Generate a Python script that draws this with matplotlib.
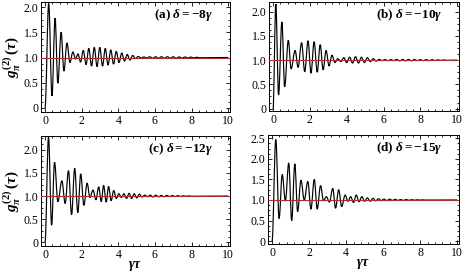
import matplotlib
matplotlib.use("Agg")
import matplotlib.pyplot as plt
from matplotlib.ticker import MultipleLocator, FuncFormatter
from matplotlib.path import Path
from matplotlib.patches import PathPatch

plt.rcParams['font.family'] = ['Liberation Serif', 'DejaVu Serif']
plt.rcParams['mathtext.fontset'] = 'custom'
plt.rcParams['mathtext.rm'] = 'Liberation Serif:bold'
plt.rcParams['mathtext.it'] = 'Liberation Serif:bold:italic'
plt.rcParams['mathtext.bf'] = 'Liberation Serif:bold'

# ---- data (turning points of g2(tau)) ----
tau_a = [0.00, 0.20, 0.38, 0.55, 0.70, 0.88, 1.03, 1.20, 1.36, 1.52,
         1.67, 1.80, 1.94, 2.09, 2.24, 2.39, 2.54, 2.69, 2.84, 2.99,
         3.14, 3.29, 3.44, 3.59, 3.74, 3.89, 4.04, 4.19, 4.34, 4.49,
         4.64, 4.79, 4.94, 5.09, 5.24, 5.40, 5.56, 5.72, 5.88, 6.04,
         6.20, 6.36, 6.52, 6.68, 6.84, 7.00, 7.16, 7.32, 7.48, 7.64,
         7.80, 7.96, 8.12, 8.28, 8.44, 10.0]
g2_a = [0.00, 2.07, 0.24, 1.78, 0.49, 1.50, 0.73, 1.29, 0.90, 1.11,
        0.97, 1.07, 0.91, 1.14, 0.86, 1.18, 0.83, 1.20, 0.82, 1.20,
        0.83, 1.18, 0.85, 1.15, 0.87, 1.12, 0.90, 1.09, 0.93, 1.06,
        0.95, 1.04, 0.98, 1.02, 0.99, 1.01, 0.99, 1.015, 0.985, 1.015,
        0.985, 1.015, 0.985, 1.015, 0.985, 1.015, 0.985, 1.012, 0.988, 1.01,
        0.99, 1.008, 0.992, 1.005, 0.995, 1.0]

tau_b = [0.00, 0.15, 0.30, 0.48, 0.63, 0.83, 0.98, 1.20, 1.36, 1.55,
         1.72, 1.90, 2.06, 2.23, 2.40, 2.56, 2.72, 2.88, 3.04, 3.20,
         3.36, 3.52, 3.68, 3.84, 4.00, 4.16, 4.32, 4.48, 4.64, 4.80,
         4.96, 5.12, 5.28, 5.44, 5.60, 5.76, 5.92, 6.08, 6.24, 6.40,
         6.56, 6.72, 6.88, 7.04, 7.20, 7.36, 7.52, 7.68, 7.84, 8.00,
         8.16, 8.32, 8.48, 8.64, 8.80, 8.96, 9.12, 9.28, 9.44, 10.0]
g2_b = [0.00, 2.16, 0.28, 1.79, 0.45, 1.41, 0.82, 1.20, 0.85, 1.36,
        0.76, 1.40, 0.73, 1.38, 0.75, 1.32, 0.80, 1.20, 0.88, 1.10,
        0.95, 1.03, 0.97, 1.05, 0.95, 1.06, 0.94, 1.07, 0.94, 1.06,
        0.95, 1.05, 0.97, 1.03, 0.98, 1.015, 0.99, 1.01, 0.99, 1.01,
        0.99, 1.015, 0.985, 1.015, 0.985, 1.015, 0.985, 1.012, 0.99, 1.01,
        0.99, 1.01, 0.99, 1.008, 0.992, 1.006, 0.994, 1.004, 0.996, 1.0]

tau_c = [0.00, 0.19, 0.36, 0.52, 0.70, 0.92, 1.10, 1.28, 1.45, 1.62,
         1.79, 1.95, 2.12, 2.30, 2.45, 2.62, 2.78, 2.93, 3.07, 3.20,
         3.34, 3.47, 3.61, 3.75, 3.89, 4.03, 4.17, 4.31, 4.45, 4.59,
         4.73, 4.87, 5.01, 5.15, 5.30, 5.45, 5.60, 5.75, 5.90, 6.05,
         6.20, 6.35, 6.50, 6.65, 6.80, 6.95, 7.10, 7.25, 7.40, 7.55,
         7.70, 7.85, 8.00, 10.0]
g2_c = [0.00, 2.28, 0.37, 1.73, 0.88, 1.33, 0.84, 1.55, 0.60, 1.60,
        0.64, 1.48, 0.80, 1.28, 0.97, 1.13, 0.92, 1.20, 0.88, 1.23,
        0.87, 1.21, 0.90, 1.12, 0.95, 1.05, 0.97, 1.05, 0.95, 1.06,
        0.95, 1.05, 0.96, 1.04, 0.98, 1.02, 0.985, 1.02, 0.98, 1.02,
        0.985, 1.015, 0.985, 1.015, 0.99, 1.01, 0.99, 1.008, 0.992, 1.006,
        0.994, 1.004, 0.996, 1.0]

tau_d = [0.00, 0.20, 0.38, 0.55, 0.72, 0.90, 1.06, 1.23, 1.38, 1.56,
         1.74, 1.93, 2.10, 2.28, 2.44, 2.62, 2.78, 2.93, 3.10, 3.28,
         3.43, 3.60, 3.76, 3.95, 4.10, 4.25, 4.40, 4.55, 4.70, 4.85,
         5.00, 5.15, 5.30, 5.45, 5.60, 5.75, 5.90, 6.05, 6.20, 6.35,
         6.50, 6.65, 6.80, 6.95, 7.10, 7.25, 7.40, 7.55, 7.70, 7.85,
         8.00, 8.15, 8.30, 10.0]
g2_d = [0.00, 2.47, 0.55, 1.62, 0.98, 1.90, 0.50, 1.88, 0.72, 1.48,
        1.00, 1.45, 0.78, 1.50, 0.78, 1.35, 0.98, 1.08, 0.95, 1.28,
        0.80, 1.25, 0.84, 1.12, 0.97, 1.08, 0.94, 1.12, 0.96, 1.08,
        0.97, 1.05, 0.97, 1.04, 0.98, 1.03, 0.985, 1.02, 0.985, 1.02,
        0.99, 1.015, 0.99, 1.01, 0.99, 1.01, 0.992, 1.008, 0.994, 1.006,
        0.996, 1.004, 0.998, 1.0]

panel_labels = [r"(a) $\delta = -8\gamma$", r"(b) $\delta = -10\gamma$",
                r"(c) $\delta = -12\gamma$", r"(d) $\delta = -15\gamma$"]
ylims = [(-0.08, 2.1), (-0.05, 2.2), (-0.08, 2.3), (-0.07, 2.58)]
x_ticks = [0, 2, 4, 6, 8, 10]
baseline = 1.0

W, H = 463, 273
fig = plt.figure(figsize=(W / 100, H / 100), dpi=100)

# axes boxes in pixels: left, top, right, bottom
boxes = [(41, 2, 230, 112), (269, 2, 459, 111),
         (41, 136, 230, 246), (268, 135, 459, 244)]
series = [(tau_a, g2_a), (tau_b, g2_b), (tau_c, g2_c), (tau_d, g2_d)]


def yfmt(v, pos):
    if abs(v) < 1e-9:
        return "0"
    return f"{v:.1f}"


def smooth_path(xs, ys, k=0.36):
    # cubic segments between successive turning points (flat tangents there)
    verts = [(xs[0], ys[0])]
    codes = [Path.MOVETO]
    for j in range(len(xs) - 1):
        dx = xs[j + 1] - xs[j]
        verts += [(xs[j] + k * dx, ys[j]), (xs[j + 1] - k * dx, ys[j + 1]),
                  (xs[j + 1], ys[j + 1])]
        codes += [Path.CURVE4] * 3
    return Path(verts, codes)


for i, ((l, t, r, b), (tx, gy)) in enumerate(zip(boxes, series)):
    ax = fig.add_axes([l / W, 1 - b / H, (r - l) / W, (b - t) / H])
    ax.add_patch(PathPatch(smooth_path(tx, gy), facecolor='none',
                           edgecolor='black', lw=0.85, zorder=2))
    ax.axhline(baseline, color='#ee1111', lw=0.8, zorder=3)
    ax.set_xlim(-0.22, 10.1)
    ax.set_ylim(*ylims[i])
    ax.set_xticks(x_ticks)
    ax.xaxis.set_minor_locator(MultipleLocator(0.4))
    ax.yaxis.set_major_locator(MultipleLocator(0.5))
    ax.yaxis.set_minor_locator(MultipleLocator(0.125))
    ax.yaxis.set_major_formatter(FuncFormatter(yfmt))
    ax.tick_params(which='both', direction='in', top=True, right=True,
                   labelsize=8.5, pad=2, width=0.6)
    ax.tick_params(which='major', length=3)
    ax.tick_params(which='minor', length=1.5)
    for s in ax.spines.values():
        s.set_linewidth(0.7)
    ax.text(0.91, 0.88, panel_labels[i], transform=ax.transAxes,
            ha='right', va='center', fontsize=9.5, fontweight='bold')
    if i in (0, 2):
        ax.set_ylabel(r"$g^{(2)}_{\pi}\,(\tau)$", fontsize=11, labelpad=1)
    if i in (2, 3):
        ax.set_xlabel(r"$\gamma\tau$", fontsize=10, labelpad=-1)

fig.savefig("out.png", dpi=100)
